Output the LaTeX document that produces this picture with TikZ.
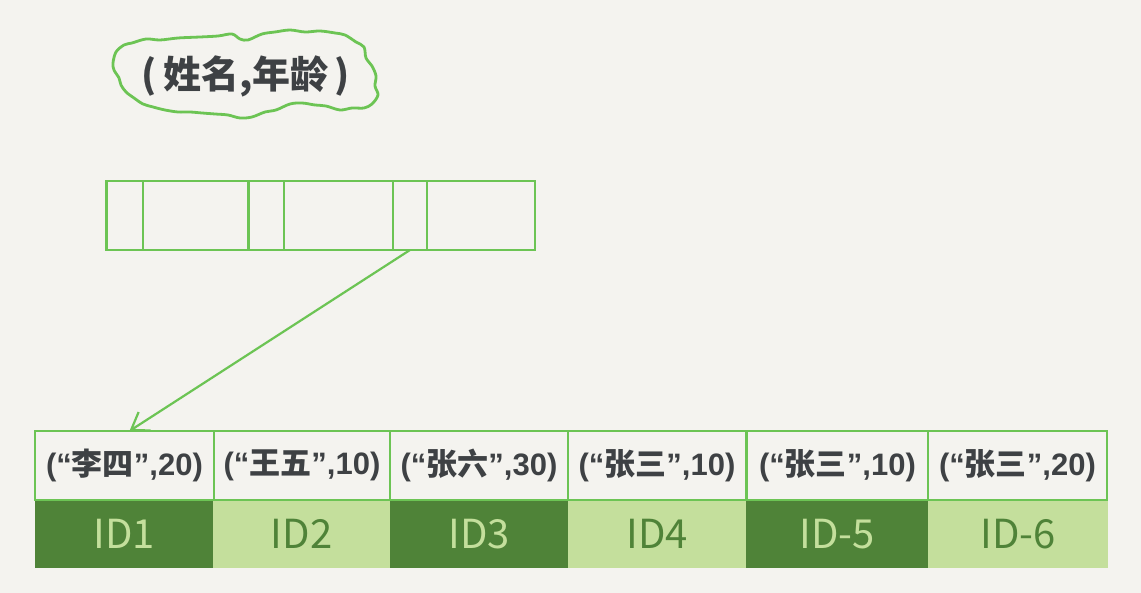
\documentclass[tikz,border=0pt]{standalone}
\usepackage{fontspec}
\setmainfont{Noto Sans CJK SC}
\newfontfamily\latf{Liberation Sans}
\usetikzlibrary{arrows.meta}
\definecolor{bg}{HTML}{F4F3EF}
\definecolor{lg}{HTML}{6CC454}
\definecolor{dk}{HTML}{4F8338}
\definecolor{lt}{HTML}{C4DF9C}
\definecolor{txt}{HTML}{3E4144}
\newcommand\rowtxt[2]{{\latf\bfseries(“}#1{\latf\bfseries”,#2)}}
\tikzset{
  line/.style={draw=lg, line width=2.5pt},
  topcell/.style={line, rectangle, inner sep=0pt, outer sep=0pt, minimum height=69pt},
  rowcell/.style={line, rectangle, inner sep=0pt, outer sep=0pt, minimum height=69pt,
    text=txt, font=\fontsize{31}{34}\selectfont\bfseries},
  idcell/.style={rectangle, inner sep=0pt, outer sep=0pt, minimum height=67pt,
    font=\fontsize{40}{44}\selectfont},
  darkid/.style={idcell, fill=dk, text=lt},
  lightid/.style={idcell, fill=lt, text=dk},
}
\begin{document}
\begin{tikzpicture}[x=1pt,y=-1pt]
\useasboundingbox (0,0) rectangle (1141,593);
\fill[bg] (0,0) rectangle (1141,593);

% cloud
\draw[lg, line width=2.8pt, line join=round] plot[smooth cycle, tension=0.55] coordinates {
 (116,52) (124,45) (132,43) (146,39) (160,40) (178,38) (200,37) (218,36) (232,34) (240,39) (248,40)
 (262,34) (275,32) (290,30) (305,32) (320,31) (335,33) (345,35) (356,42) (364,47)
 (366,58) (372,66) (376,76) (375,86) (378,95) (372,104) (364,108) (352,108) (340,110)
 (326,106) (315,105) (302,103) (290,104) (276,110) (265,112) (252,117) (240,118)
 (228,115) (215,114) (202,113) (190,112) (178,112) (165,110) (153,107) (143,104)
 (134,98) (126,92) (121,85) (119,78) (114,70) (113,63)};
\node[text=txt, font=\fontsize{38}{42}\selectfont\bfseries] (title) at (246,76) {(\,姓名,年龄\,)};

% top index entry
\node[topcell, minimum width=36.5pt] (t1) at (124.5,215.5) {};
\node[topcell, minimum width=106pt] (t2) at (196,215.5) {};
\node[topcell, minimum width=36pt] (t3) at (266,215.5) {};
\node[topcell, minimum width=109pt] (t4) at (338.5,215.5) {};
\node[topcell, minimum width=34pt] (t5) at (410,215.5) {};
\node[topcell, minimum width=108pt] (t6) at (481,215.5) {};

% bottom row
\node[rowcell, minimum width=179pt] (r1) at (124.5,465.5) {\rowtxt{李四}{20}};
\node[rowcell, minimum width=176pt] (r2) at (302,465.5) {\rowtxt{王五}{10}};
\node[rowcell, minimum width=178pt] (r3) at (479,465.5) {\rowtxt{张六}{30}};
\node[rowcell, minimum width=178pt] (r4) at (657,465.5) {\rowtxt{张三}{10}};
\node[rowcell, minimum width=181pt] (r5) at (837.5,465.5) {\rowtxt{张三}{10}};
\node[rowcell, minimum width=179pt] (r6) at (1017.5,465.5) {\rowtxt{张三}{20}};

\node[darkid, minimum width=178pt] (i1) at (124,534) {ID1};
\node[lightid, minimum width=177pt] (i2) at (301.5,534) {ID2};
\node[darkid, minimum width=178pt] (i3) at (479,534) {ID3};
\node[lightid, minimum width=178pt] (i4) at (657,534) {ID4};
\node[darkid, minimum width=182pt] (i5) at (837,534) {ID-5};
\node[lightid, minimum width=180pt] (i6) at (1018,534) {ID-6};

% pointer
\draw[lg, line width=2.2pt, -{Straight Barb[length=16pt, width=22pt, line width=2.2pt]}]
  (t5.south) -- ([xshift=5pt]r1.north);
\end{tikzpicture}
\end{document}
